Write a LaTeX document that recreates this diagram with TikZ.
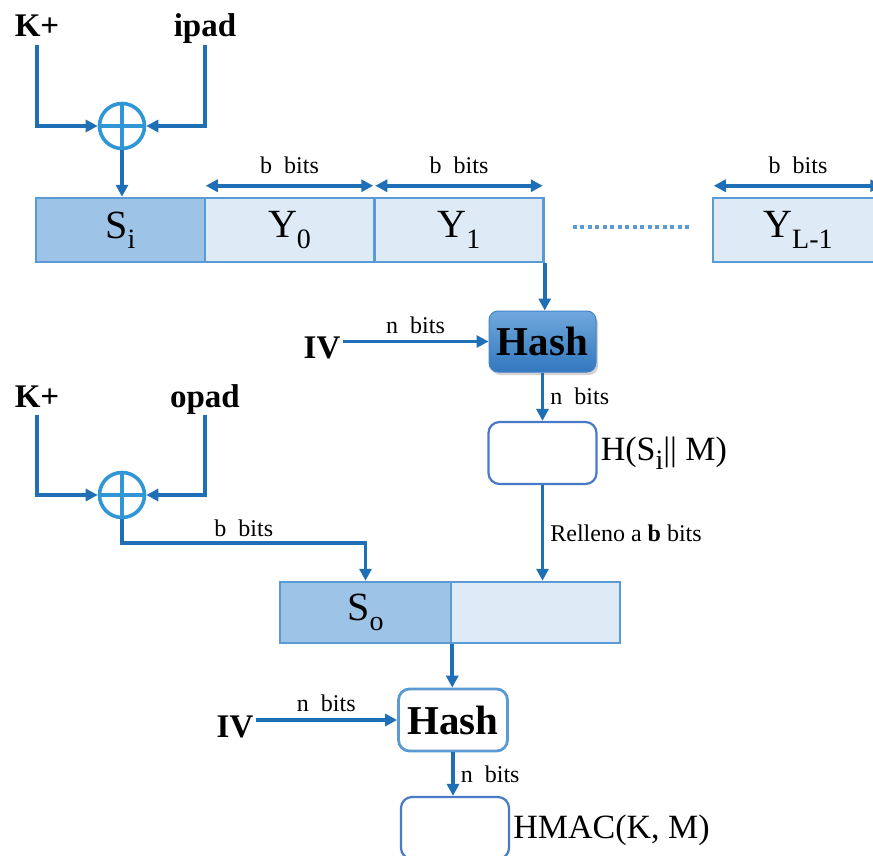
\documentclass[tikz,border=0pt]{standalone}
\usepackage{fontspec}
\setmainfont{Liberation Serif}
\usetikzlibrary{arrows.meta,shadows,calc}
\definecolor{arrowblue}{RGB}{31,111,183}
\definecolor{xorblue}{RGB}{48,150,214}
\definecolor{boxblue}{RGB}{91,155,213}
\definecolor{sifill}{RGB}{157,195,230}
\definecolor{yfill}{RGB}{222,235,247}
\definecolor{hashtop}{RGB}{112,168,220}
\definecolor{hashbot}{RGB}{50,120,190}
\definecolor{hashedge}{RGB}{70,130,200}
\definecolor{outblue}{RGB}{72,122,200}
\newcommand{\lowidx}[1]{\raisebox{-0.26em}{\fontsize{28}{28}\selectfont #1}}
\begin{document}
\begin{tikzpicture}[x=1pt,y=-1pt,
  big/.style={font=\bfseries\fontsize{33}{33}\selectfont, inner sep=2pt, anchor=base},
  lbl/.style={font=\fontsize{24}{24}\selectfont, inner sep=2pt},
  txt/.style={font=\fontsize{34}{34}\selectfont, inner sep=3pt, anchor=west},
  arr/.style={draw=arrowblue, line width=3.8pt, -{Triangle[length=12pt,width=12pt]}},
  darr/.style={draw=arrowblue, line width=3.8pt, {Triangle[length=12pt,width=12pt]}-{Triangle[length=12pt,width=12pt]}, shorten <=2pt, shorten >=2pt},
  xorc/.style={circle, draw=xorblue, line width=3.6pt, minimum size=45pt, inner sep=0pt, fill=white,
    path picture={\draw[xorblue, line width=3.8pt] (path picture bounding box.north) -- (path picture bounding box.south) (path picture bounding box.west) -- (path picture bounding box.east);}},
  cell/.style={draw=boxblue, line width=2.5pt, minimum width=169pt, minimum height=64pt, inner sep=0pt, font=\fontsize{40}{40}\selectfont},
  hashbox/.style={rounded corners=9pt, minimum width=107pt, minimum height=61pt, inner sep=0pt, font=\bfseries\fontsize{41}{41}\selectfont},
  outbox/.style={draw=outblue, line width=2.2pt, rounded corners=11pt, minimum width=108pt, minimum height=62pt, inner sep=0pt, fill=white},
  dotline/.style={draw=boxblue, line width=3.5pt, dash pattern=on 4pt off 3.5pt}
]
\useasboundingbox (0,0) rectangle (873,856);
\fill[white] (0,0) rectangle (873,856);
\clip (0,0) rectangle (873,856);

% ---------- inner part ----------
\node[big] (k1) at (37,37) {K+};
\node[big] (ip1) at (205,37) {ipad};
\node[xorc] (x1) at (122,126) {};
\draw[arr] ([yshift=-8pt]k1.base) |- (x1.west);
\draw[arr] ([yshift=-8pt]ip1.base) |- (x1.east);

\node[cell, fill=sifill] (si) at (120.5,230) {S\lowidx{i}};
\node[cell, fill=yfill] (y0) at (289.5,230) {Y\lowidx{0}};
\node[cell, fill=yfill] (y1) at (459,230) {Y\lowidx{1}};
\node[cell, fill=yfill, minimum width=170pt] (yl) at (798,230) {Y\lowidx{L-1}};
\draw[arr] (x1.south) -- (x1.south |- si.north);

\draw[dotline] ([xshift=28pt,yshift=3pt]y1.east) -- ([xshift=-23pt,yshift=3pt]yl.west);

\draw[darr] ([yshift=11pt]y0.north west) -- node[lbl, above=8pt] (lb0) {b\ \ bits} ([yshift=11pt]y0.north east);
\draw[darr] ([yshift=11pt]y1.north west) -- node[lbl, above=8pt] (lb1) {b\ \ bits} ([yshift=11pt]y1.north east);
\draw[darr] ([yshift=11pt]yl.north west) -- node[lbl, above=8pt] (lbl) {b\ \ bits} ([yshift=11pt]yl.north east);

\node[hashbox, draw=hashedge, line width=1pt, top color=hashtop, bottom color=hashbot,
      drop shadow={opacity=0.35, shadow xshift=2pt, shadow yshift=-3pt}] (h1) at (542.5,341.5) {Hash};
\draw[arr] (y1.south east) -- (y1.south east |- h1.north);

\node[big] (iv1) at (322,358) {IV};
\draw[arr] (iv1.east |- h1.west) -- node[lbl, above=4pt] (ln1) {n\ \ bits} (h1.west);

\node[outbox] (hb) at (542.5,453) {};
\draw[arr] (h1.south) -- node[lbl, right=4pt] (ln2) {n\ \ bits} (h1.south |- hb.north);
\node[txt] (hbl) at (hb.east) {H(S\lowidx{i}|| M)};

% ---------- outer part ----------
\node[big] (k2) at (37,407) {K+};
\node[big] (ip2) at (205,407) {opad};
\node[xorc] (x2) at (122,495) {};
\draw[arr] ([yshift=-8pt]k2.base) |- (x2.west);
\draw[arr] ([yshift=-8pt]ip2.base) |- (x2.east);

\node[cell, fill=sifill, minimum width=171pt, minimum height=61pt] (so) at (365.5,612.5) {S\lowidx{o}};
\node[cell, fill=yfill, minimum width=169pt, minimum height=61pt] (sr) at (535.5,612.5) {};

\path (x2.south) ++(0,24) coordinate (bend);
\draw[arr] (x2.south) -- (bend) -- node[lbl, above=3pt] (lb2) {b\ \ bits} (bend -| so.north) -- (so.north);

\draw[arr] (hb.south) -- node[lbl, right=4pt] (lrel) {Relleno a \textbf{b} bits} (hb.south |- sr.north);

\node[hashbox, draw=boxblue, line width=2.8pt, fill=white, minimum width=109pt, minimum height=62pt, rounded corners=11pt] (h2) at (453,720) {Hash};
\draw[arr] (so.south east) -- (so.south east |- h2.north);

\node[big] (iv2) at (235,737) {IV};
\draw[arr] (iv2.east |- h2.west) -- node[lbl, above=4pt] (ln3) {n\ \ bits} (h2.west);

\node[outbox] (hm) at (455,828) {};
\draw[arr] (h2.south) -- node[lbl, right=4pt] (ln4) {n\ \ bits} (h2.south |- hm.north);
\node[txt] (hml) at ([yshift=-2pt]hm.east) {HMAC(K, M)};
\end{tikzpicture}
\end{document}
